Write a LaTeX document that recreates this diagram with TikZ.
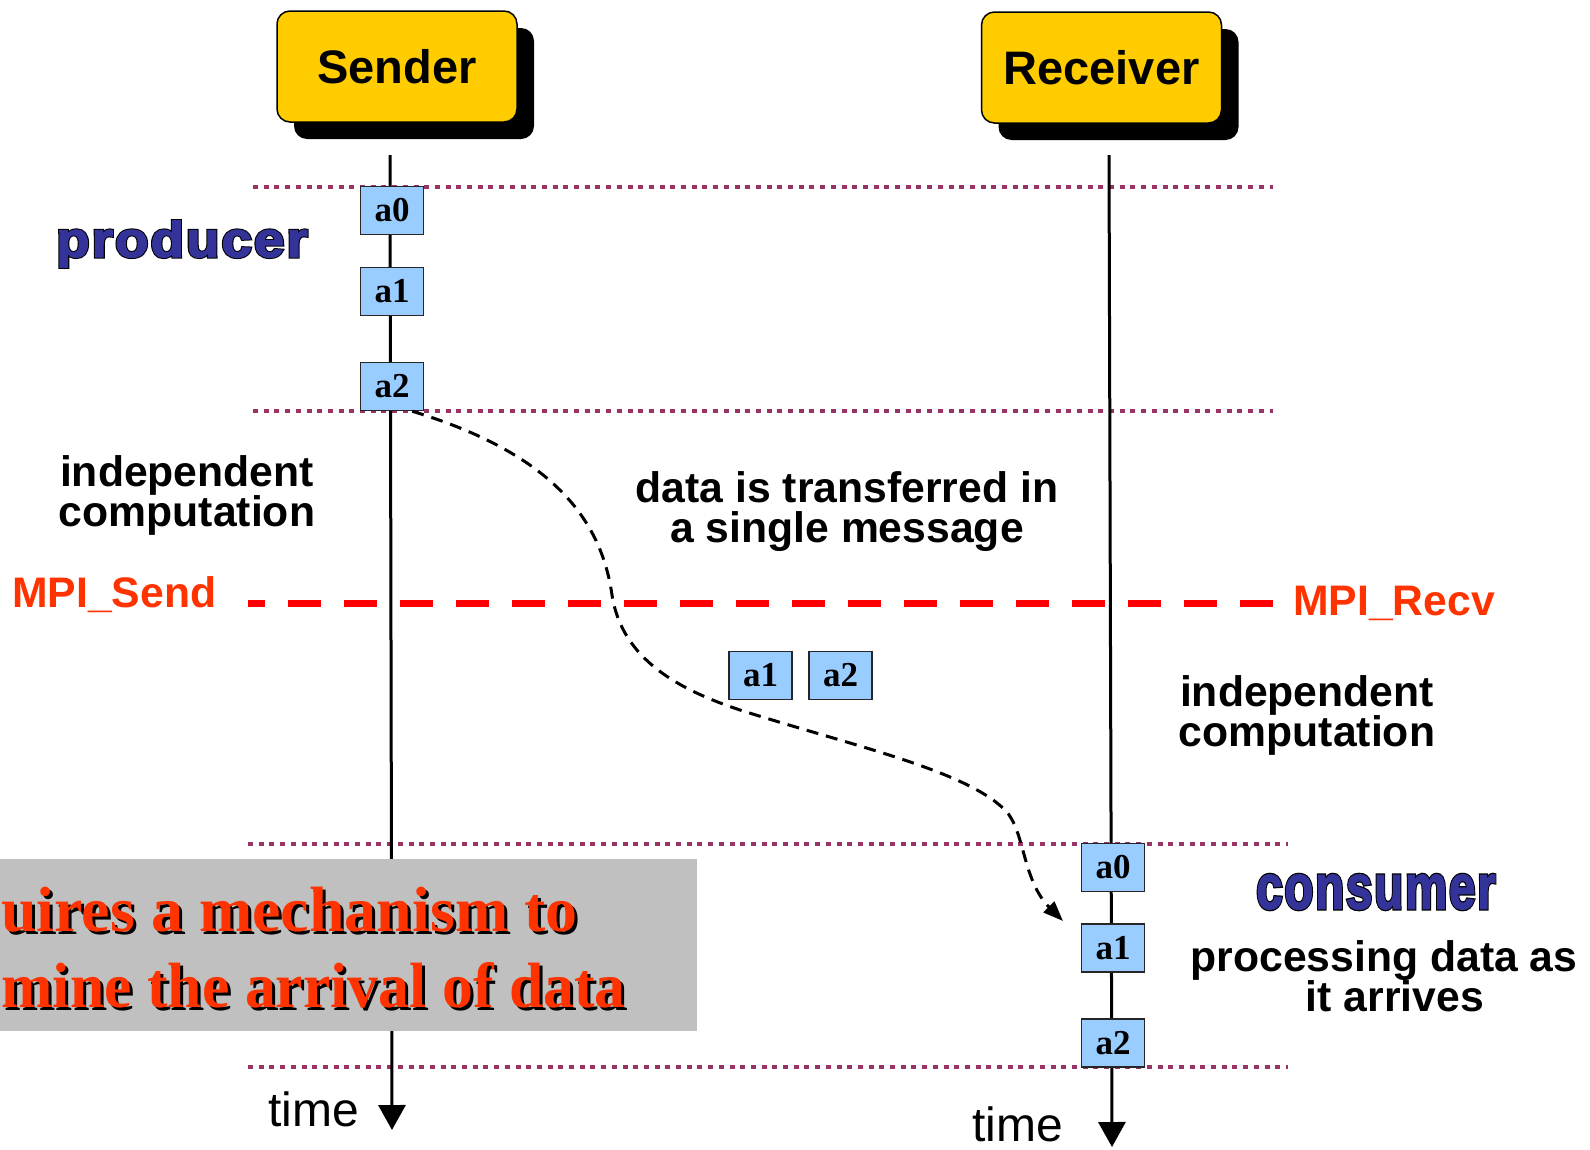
\documentclass[tikz,border=0pt]{standalone}
\usepackage{fontspec}
\setmainfont{Liberation Sans}
\newfontfamily\tnr{Liberation Serif}
\newfontfamily\heavyfont{Liberation Sans Bold}[FakeBold=2.5,LetterSpace=4]
\newfontfamily\heavyblack{Liberation Sans Bold}[FakeBold=6.5,LetterSpace=4]
\usetikzlibrary{shadows,arrows.meta}
\definecolor{gold}{HTML}{FFCC00}
\definecolor{boxblue}{HTML}{99CCFF}
\definecolor{plum}{HTML}{993366}
\definecolor{navy}{HTML}{333399}
\definecolor{orangered}{HTML}{FF3300}
\definecolor{graybox}{HTML}{C0C0C0}
\newcommand\outlined[1]{\makebox[0pt][l]{\color{black}\heavyblack #1}{\color{navy}\heavyfont #1}}
\begin{document}
\begin{tikzpicture}[x=1pt,y=-1pt,
  actor/.style={draw=black, line width=1.5pt, fill=gold, rounded corners=13pt,
    minimum width=240pt, minimum height=111pt, inner sep=0pt,
    font=\fontsize{47}{47}\selectfont\bfseries,
    drop shadow={shadow xshift=17pt, shadow yshift=-17pt, opacity=1, fill=black}},
  abox/.style={draw=black!85, line width=1.5pt, fill=boxblue, minimum width=63pt,
    minimum height=48pt, inner sep=0pt, font=\tnr\bfseries\fontsize{35}{35}\selectfont},
  lbl/.style={font=\fontsize{42.7}{40}\selectfont\bfseries, align=center, inner sep=0pt},
  timelbl/.style={font=\fontsize{48}{48}\selectfont, inner sep=0pt},
  timeline/.style={line width=3pt, -{Triangle[length=25pt,width=27pt]}},
  sepline/.style={draw=plum, line width=4.5pt, dash pattern=on 5pt off 5.7pt},
  mpiline/.style={draw=red, line width=7pt, dash pattern=on 33pt off 23pt, dash phase=16pt},
  flow/.style={line width=3pt, dash pattern=on 12pt off 8pt, -{Triangle[length=20pt,width=15pt]}},
  redtxt/.style={font=\tnr\bfseries\fontsize{64}{64}\selectfont, inner sep=0pt}
]
\useasboundingbox (0,0) rectangle (1590,1149);

% separators
\draw[sepline] (253,187) -- (1273,187);
\draw[sepline] (253,411) -- (1273,411);
\draw[sepline] (248,844) -- (1288,844);
\draw[sepline] (248,1067) -- (1288,1067);
\draw[mpiline] (248,603) -- (1273,603);

% actors
\node[actor] (sender) at (397,66.5) {Sender};
\node[actor] (receiver) at (1101.5,67.5) {Receiver};

% time lines
\coordinate (stop) at (390,155);
\coordinate (sbot) at (392,1130);
\coordinate (rtop) at (1109,155);
\coordinate (rbot) at (1112,1147);
\draw[timeline] (stop) -- (sbot);
\draw[timeline] (rtop) -- (rbot);

% message boxes
\node[abox] (sa0) at (392,210.5) {a0};
\node[abox] (sa1) at (392,291.5) {a1};
\node[abox] (sa2) at (392,386.5) {a2};
\node[abox] (ma1) at (760.5,675.5) {a1};
\node[abox] (ma2) at (840.5,675.5) {a2};
\node[abox] (ra0) at (1113,867.5) {a0};
\node[abox] (ra1) at (1113,948) {a1};
\node[abox] (ra2) at (1113,1043) {a2};

% transfer curve
\coordinate (ctip) at (1063,921);
\draw[flow] ([xshift=-12pt]sa2.south east) .. controls (540,450) and (600,510) .. (612,595)
  .. controls (622,660) and (680,690) .. (740,710)
  .. controls (850,745) and (965,770) .. (1005,810)
  .. controls (1025,830) and (1022,880) .. (ctip);

% labels
\node (prod) at (182,244) {\scalebox{1.09}[1]{\fontsize{50}{50}\selectfont\outlined{producer}}};
\node (cons) at (1376,892) {\scalebox{0.91}[1.21]{\fontsize{52}{52}\selectfont\outlined{consumer}}};
\node[lbl] (indL) at (187,495) {independent\\computation};
\node[lbl] (xfer) at (847,512) {data is transferred in\\a single message};
\node[lbl, text=orangered, anchor=base west] (send) at (12,607) {MPI\_Send};
\node[lbl, text=orangered, anchor=base west] (recv) at (1293,615) {MPI\_Recv};
\node[lbl] (indR) at (1307,715) {independent\\computation};
\node[lbl] (proc) at (1384,976) {processing data as\\\hspace*{22pt}it arrives};
\node[timelbl, anchor=base west] (tl) at (268,1126) {time};
\node[timelbl, anchor=base west] (tr) at (972,1141) {time};

% note box
\node[fill=graybox, anchor=north west, minimum width=697pt, minimum height=172pt, inner sep=0pt] (note) at (0,859) {};
\begin{scope}
  \clip (note.south west) rectangle (note.north east);
  \node[redtxt, anchor=base east, text=black] at (581,934) {uires a mechanism to};
  \node[redtxt, anchor=base east, text=orangered] (r1) at (578,931) {uires a mechanism to};
  \node[redtxt, anchor=base east, text=black] at (629,1010) {\scalebox{0.965}[1]{mine the arrival of data}};
  \node[redtxt, anchor=base east, text=orangered] (r2) at (626,1007) {\scalebox{0.965}[1]{mine the arrival of data}};
\end{scope}
\end{tikzpicture}
\end{document}
